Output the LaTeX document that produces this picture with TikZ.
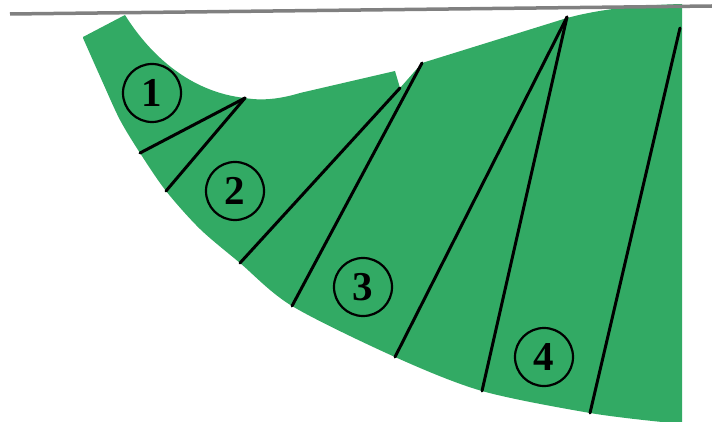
\documentclass[tikz,border=0pt]{standalone}
\usepackage{fontspec}
\setmainfont{Liberation Serif}
\usepackage{tikz}
\usetikzlibrary{positioning}
\definecolor{leafgreen}{RGB}{50,170,100}
\definecolor{rulegray}{RGB}{128,128,128}

\begin{document}
\begin{tikzpicture}[
  x=1pt, y=-1pt,
  numcirc/.style={circle, draw, line width=2.2pt, minimum size=58pt, inner sep=0pt,
                  font=\fontsize{41}{41}\selectfont\bfseries},
  cut/.style={line width=3pt, black, line cap=round}
]
\useasboundingbox (0,0) rectangle (712,422);

% ===== Green sheet =====
\fill[leafgreen] (83,37) -- (125,15)
  .. controls (150,55) and (190,92) .. (245,98)
  .. controls (262,101) and (280,99) .. (300,93)
  -- (395,71) -- (400,88) -- (422,63) -- (567,18)
  .. controls (600,9) and (640,5) .. (682,4)
  -- (682,422) -- (662,422)
  -- plot[smooth] coordinates {(662,422) (590,413) (482,391) (395,357) (292,306)
       (240,263) (200,229) (166,191) (140,153) (120,120) (103,83) (83,38)}
  -- cycle;

% ===== Top rule =====
\coordinate (ruleL) at (10,14);
\coordinate (ruleR) at (712,6);
\draw[rulegray, line width=3.5pt] (ruleL) -- (ruleR);

% ===== Cut lines =====
\coordinate (notchA) at (245,98);
\coordinate (notchB) at (400,88);
\coordinate (notchC) at (422,63);
\coordinate (apex)   at (567,17);
\coordinate (rimTop) at (680,28);
\coordinate (edgeA) at (140,153);
\coordinate (edgeB) at (166,191);
\coordinate (edgeC) at (240,263);
\coordinate (edgeD) at (292,306);
\coordinate (edgeE) at (395,357);
\coordinate (edgeF) at (482,391);
\coordinate (edgeG) at (590,413);

\draw[cut] (edgeA) -- (notchA);
\draw[cut] (edgeB) -- (notchA);
\draw[cut] (edgeC) -- (notchB);
\draw[cut] (edgeD) -- (notchC);
\draw[cut] (edgeE) -- (apex);
\draw[cut] (edgeF) -- (apex);
\draw[cut] (edgeG) -- (rimTop);

% ===== Piece numbers =====
\node[numcirc] (one)   at (152,93)  {1};
\node[numcirc] (two)   at (235,191) {2};
\node[numcirc] (three) at (363,287) {3};
\node[numcirc] (four)  at (544,357) {4};

\end{tikzpicture}
\end{document}
